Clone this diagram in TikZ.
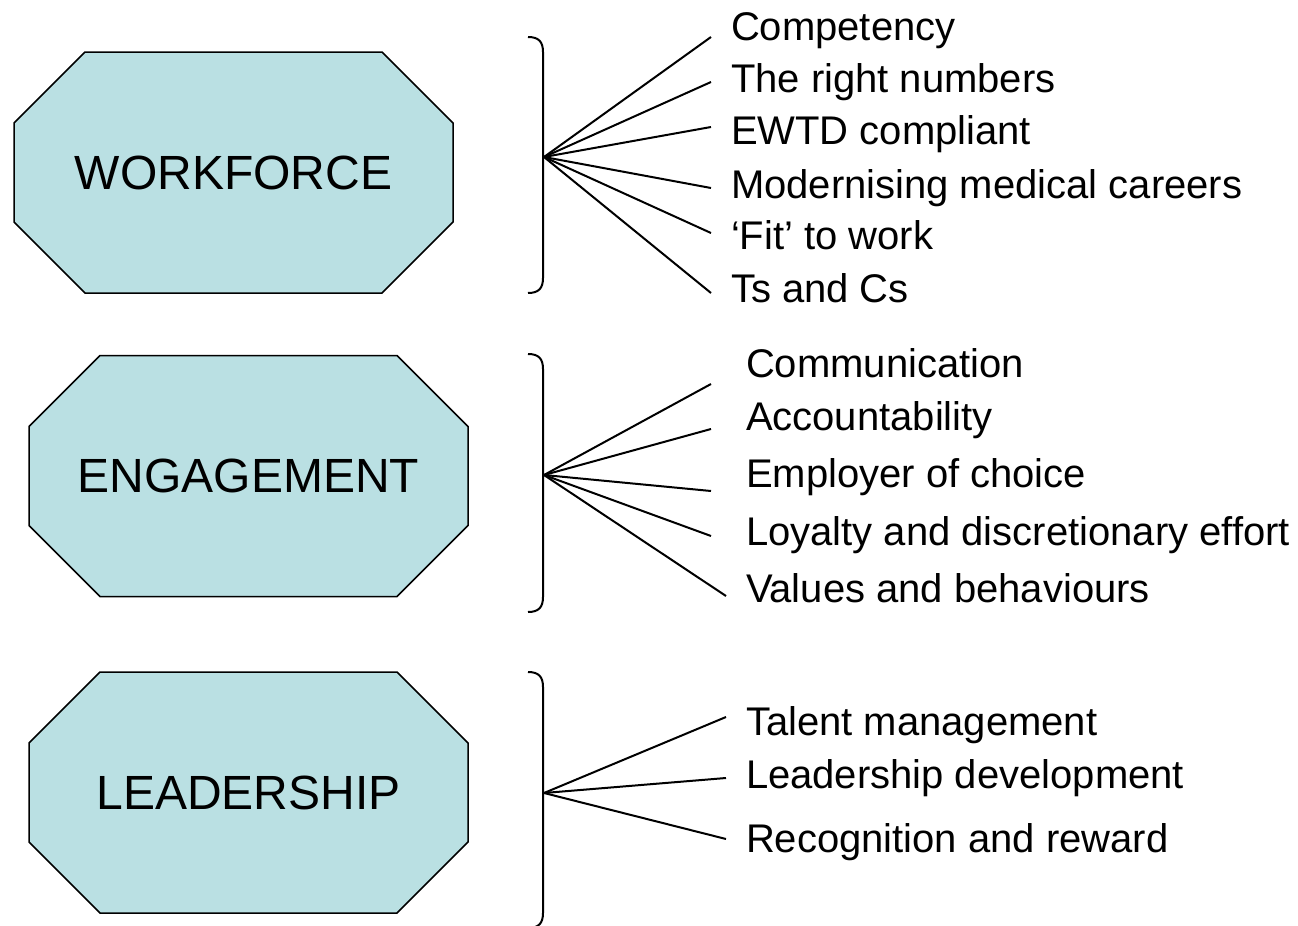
\documentclass[tikz,border=0pt]{standalone}
\usepackage{fontspec}
\setmainfont{Liberation Sans}
\usetikzlibrary{shapes.misc}
\definecolor{boxcyan}{RGB}{186,224,227}

\begin{document}
\begin{tikzpicture}[x=0.5pt,y=-0.5pt,line width=1pt]
	\tikzstyle{octa}=[draw,line width=0.75pt,fill=boxcyan,chamfered rectangle,chamfered rectangle xsep=26pt,chamfered rectangle ysep=27pt,minimum width=219.5pt,minimum height=120.5pt,inner sep=0pt,font=\fontsize{24}{28}\selectfont];
	\tikzstyle{item}=[anchor=base west,inner sep=0pt,font=\fontsize{20}{24}\selectfont];
	\useasboundingbox (0,0) rectangle (1298,926);

	% the three groups
	\node at (233.5, 172.5) (wf) [octa] {WORKFORCE};
	\node at (248.5, 476)   (en) [octa] {ENGAGEMENT};
	\node at (248.5, 792.5) (le) [octa] {LEADERSHIP};

	% braces
	\draw (528,37) .. controls (539,37) and (543,42) .. (543,52) -- (543,278) .. controls (543,288) and (539,293) .. (528,293);
	\draw (528,354) .. controls (539,354) and (543,359) .. (543,369) -- (543,597) .. controls (543,607) and (539,612) .. (528,612);
	\draw (528,672) .. controls (539,672) and (543,677) .. (543,687) -- (543,913) .. controls (543,923) and (539,928) .. (528,928);

	\coordinate (wf-fan) at (544,157);
	\coordinate (en-fan) at (544,475);
	\coordinate (le-fan) at (544,793);

	% workforce items
	\node at (730, 40)  (wf1) [item] {Competency};
	\node at (730, 92)  (wf2) [item] {The right numbers};
	\node at (730, 144) (wf3) [item] {EWTD compliant};
	\node at (730, 198) (wf4) [item] {Modernising medical careers};
	\node at (730, 249) (wf5) [item] {‘Fit’ to work};
	\node at (730, 302) (wf6) [item] {Ts and Cs};

	\coordinate (wf-e1) at (711,37);
	\coordinate (wf-e2) at (711,82);
	\coordinate (wf-e3) at (711,127);
	\coordinate (wf-e4) at (711,188);
	\coordinate (wf-e5) at (711,233);
	\coordinate (wf-e6) at (711,293);

	\draw (wf-fan) to (wf-e1);
	\draw (wf-fan) to (wf-e2);
	\draw (wf-fan) to (wf-e3);
	\draw (wf-fan) to (wf-e4);
	\draw (wf-fan) to (wf-e5);
	\draw (wf-fan) to (wf-e6);

	% engagement items
	\node at (745, 377) (en1) [item] {Communication};
	\node at (745, 430) (en2) [item] {Accountability};
	\node at (745, 487) (en3) [item] {Employer of choice};
	\node at (745, 545) (en4) [item] {Loyalty and discretionary effort};
	\node at (745, 602) (en5) [item] {Values and behaviours};

	\coordinate (en-e1) at (711,384);
	\coordinate (en-e2) at (711,429);
	\coordinate (en-e3) at (711,491);
	\coordinate (en-e4) at (711,536);
	\coordinate (en-e5) at (726,596);

	\draw (en-fan) to (en-e1);
	\draw (en-fan) to (en-e2);
	\draw (en-fan) to (en-e3);
	\draw (en-fan) to (en-e4);
	\draw (en-fan) to (en-e5);

	% leadership items
	\node at (745, 735) (le1) [item] {Talent management};
	\node at (745, 788) (le2) [item] {Leadership development};
	\node at (745, 852) (le3) [item] {Recognition and reward};

	\coordinate (le-e1) at (726,717);
	\coordinate (le-e2) at (726,778);
	\coordinate (le-e3) at (726,839);

	\draw (le-fan) to (le-e1);
	\draw (le-fan) to (le-e2);
	\draw (le-fan) to (le-e3);
\end{tikzpicture}
\end{document}
